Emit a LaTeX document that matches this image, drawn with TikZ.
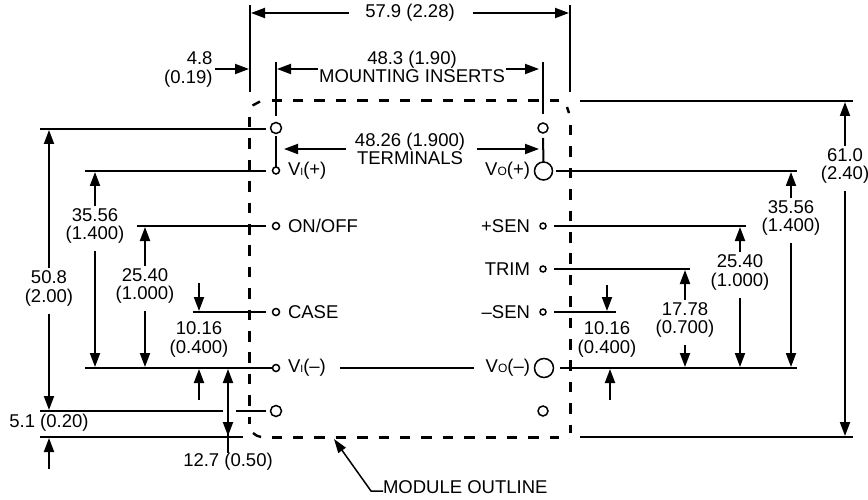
\documentclass[tikz,border=0pt]{standalone}
\usepackage{fontspec}
\setmainfont{Liberation Sans}
\usetikzlibrary{arrows.meta}
\newcommand{\subI}{{\fontsize{10.5}{10}\selectfont I}}
\newcommand{\subO}{{\fontsize{12}{10}\selectfont O}}
\tikzset{
 x=1pt,y=-1pt,
 every node/.style={inner sep=0pt,outer sep=0pt,text=black,font=\fontsize{18.5}{18.6}\selectfont},
 rail/.style={line width=2pt},
 dimln/.style={line width=2pt,-{Triangle[length=14pt,width=10pt]},shorten >=1pt},
 dimtwo/.style={line width=2pt,{Triangle[length=14pt,width=10pt]}-{Triangle[length=14pt,width=10pt]}},
 outline/.style={line width=3pt,dash pattern=on 10.5pt off 10.9pt},
 tick/.style={line width=2.4pt},
 pin/.style={circle,draw,line width=1.5pt,minimum size=#1,fill=white},
 lab/.style={align=center},
 upper/.style={shorten <=2.5pt},
 lower/.style={shorten <=7.5pt},
}
\begin{document}
\begin{tikzpicture}
\useasboundingbox (0,0) rectangle (868,500);
% module outline
\coordinate (oa) at (271.5,101); \coordinate (ob) at (559,101);
\coordinate (oc) at (271.5,437); \coordinate (od) at (559,437);
\coordinate (oe) at (249,117); \coordinate (of) at (249,424);
\coordinate (og) at (570,125); \coordinate (oh) at (570,433);
\draw[outline] (oa) -- (ob);
\draw[outline] (oc) -- (od);
\draw[outline] (oe) -- (of);
\draw[outline] (og) -- (oh);
\draw[tick] (252.5,105.5) -- (260,101.5);
\draw[tick] (567,107) -- (569,113);
\draw[tick] (253,433) to[bend right=15] (261,437);
% pins
\node[pin=11pt] (mil) at (276,128) {};
\node[pin=10pt] (mir) at (543,128) {};
\node[pin=11pt] (mbl) at (276,411) {};
\node[pin=10pt] (mbr) at (543,411) {};
\node[pin=7pt] (vip) at (276,170.5) {};
\node[pin=7pt] (onf) at (276,226) {};
\node[pin=7pt] (cas) at (276,312) {};
\node[pin=7pt] (vim) at (276,368) {};
\node[pin=18pt] (vop) at (543.5,171) {};
\node[pin=6pt] (spl) at (543,226) {};
\node[pin=6pt] (trm) at (543,269) {};
\node[pin=6pt] (smn) at (543,312) {};
\node[pin=19pt] (vom) at (544,368) {};
% terminal labels
\node[anchor=west] (tvip) at (288,171) {V\subI(+)};
\node[anchor=west] (tonf) at (288,226) {ON/OFF};
\node[anchor=west] (tcas) at (288,312) {CASE};
\node[anchor=west] (tvim) at (288,368) {V\subI(--)};
\node[anchor=east] (tvop) at (530,171) {V\subO(+)};
\node[anchor=east] (tspl) at (530,226) {+SEN};
\node[anchor=east] (ttrm) at (530,269) {TRIM};
\node[anchor=east] (tsmn) at (530,312) {--SEN};
\node[anchor=east] (tvom) at (530,368) {V\subO(--)};
% extension line ends
\coordinate (Lm) at (40,129);
\coordinate (Lv) at (85,171);
\coordinate (Lo) at (137,226);
\coordinate (Lc) at (193,312);
\coordinate (Ln) at (85,368);
\coordinate (Lb) at (40,411);
\coordinate (Lba) at (223,411);
\coordinate (Lbb) at (236,411);
\coordinate (Lz) at (40,437);
\coordinate (Lze) at (243,437);
\coordinate (Rt) at (580,101);
\coordinate (Rte) at (853,101);
\coordinate (Rz) at (580,437);
\coordinate (Rze) at (853,437);
\coordinate (Rv) at (797,171);
\coordinate (Rs) at (746,226);
\coordinate (Rr) at (690,269);
\coordinate (Rn) at (616,312);
\coordinate (Rm) at (797,368);
\coordinate (Rma) at (560,368);
\coordinate (Mma) at (340,368);
\coordinate (Mmb) at (474,368);
\draw[rail] (Lm) -- (266,129);
\draw[rail] (Lv) -- (266,171);
\draw[rail] (Lo) -- (266,226);
\draw[rail] (Lc) -- (266,312);
\draw[rail] (Ln) -- (vim.west);
\draw[rail] (Lb) -- (Lba);
\draw[rail] (Lbb) -- (266,411);
\draw[rail] (Lz) -- (Lze);
\draw[rail] (Rt) -- (Rte);
\draw[rail] (Rz) -- (Rze);
\draw[rail] (vop.east) ++(3,0) -- (Rv);
\draw[rail] (554,226) -- (Rs);
\draw[rail] (554,269) -- (Rr);
\draw[rail] (554,312) -- (Rn);
\draw[rail] (Rma) -- (Rm);
\draw[rail] (Mma) -- (Mmb);
% width dimensions
\coordinate (wa) at (250,5); \coordinate (wb) at (250,92);
\coordinate (wc) at (570,5); \coordinate (wd) at (570,92);
\coordinate (ia) at (276,62); \coordinate (ib) at (543,62);
\draw[rail] (wa) -- (wb);
\draw[rail] (wc) -- (wd);
\draw[rail] (ia) -- (276,116);
\draw[rail] (ib) -- (543,114);
\draw[rail] (mil.south) ++(0,3) -- (vip.north);
\draw[rail] (mir.south) ++(0,5) -- (vop.north);
\node (d579) at (410,13) {57.9 (2.28)};
\draw[dimln] (349,13) -- (250,13);
\draw[dimln] (473,13) -- (570,13);
\node[anchor=east,align=right] (d48) at (212.5,69.5) {4.8\\(0.19)};
\draw[dimln] (215,69) -- (250,69);
\node[lab] (d483) at (412,67) {48.3 (1.90)\\MOUNTING INSERTS};
\draw[dimln] (318,69) -- (276,69);
\draw[dimln] (506,69) -- (540,69);
\node[lab] (d4826) at (410,149) {48.26 (1.900)\\TERMINALS};
\draw[dimln] (346,149) -- (283,149);
\draw[dimln] (477,149) -- (540,149);
% left height dimensions
\node[lab] (a508) at (49,288.5) {50.8\\(2.00)};
\draw[dimln,upper] (a508.north) -- (a508.north |- Lm);
\draw[dimln,lower] (a508.south) -- (a508.south |- Lb);
\node (a51) at (49,423) {5.1 (0.20)};
\coordinate (a51b) at (49,469);
\draw[dimln] (a51b) -- (a51b |- Lz);
\node[lab] (a355) at (95,226) {35.56\\(1.400)};
\draw[dimln,upper] (a355.north) -- (a355.north |- Lv);
\draw[dimln,lower] (a355.south) -- (a355.south |- Ln);
\node[lab] (a254) at (145,286) {25.40\\(1.000)};
\draw[dimln,upper] (a254.north) -- (a254.north |- Lo);
\draw[dimln,lower] (a254.south) -- (a254.south |- Ln);
\node[lab] (a101) at (199,339.5) {10.16\\(0.400)};
\coordinate (a101a) at (199,283); \coordinate (a101b) at (199,400);
\draw[dimln] (a101a) -- (a101a |- Lc);
\draw[dimln] (a101b) -- (a101b |- Ln);
\node (a127) at (228,462) {12.7 (0.50)};
\draw[dimtwo] (228,369) -- (228,436);
\coordinate (a127s) at (228,453);
\draw[rail] (228,430) -- (a127s);
% right height dimensions
\node[lab] (b61) at (845,166) {61.0\\(2.40)};
\draw[dimln,upper] (b61.north) -- (b61.north |- Rt);
\draw[dimln,lower] (b61.south) -- (b61.south |- Rz);
\node[lab] (b355) at (791,218) {35.56\\(1.400)};
\draw[dimln,upper] (b355.north) -- (b355.north |- Rv);
\draw[dimln,lower] (b355.south) -- (b355.south |- Rm);
\node[lab] (b254) at (740,272.5) {25.40\\(1.000)};
\draw[dimln,upper] (b254.north) -- (b254.north |- Rs);
\draw[dimln,lower] (b254.south) -- (b254.south |- Rm);
\node[lab] (b177) at (685,320) {17.78\\(0.700)};
\draw[dimln,upper] (b177.north) -- (b177.north |- Rr);
\draw[dimln,lower] (b177.south) -- (b177.south |- Rm);
\node[lab] (b101) at (607,339.5) {10.16\\(0.400)};
\coordinate (b101a) at (607,285); \coordinate (b101b) at (610,400);
\draw[dimln] (b101a) -- (b101a |- Rn);
\draw[dimln] (b101b) -- (b101b |- Rm);
% module outline callout
\node[anchor=west] (mo) at (383,487) {MODULE OUTLINE};
\coordinate (moa) at (371,491); \coordinate (mot) at (334,439);
\draw[line width=1.5pt,-{Triangle[length=14pt,width=9pt]}] (mo.west |- moa) -- (moa) -- (mot);
\end{tikzpicture}
\end{document}
